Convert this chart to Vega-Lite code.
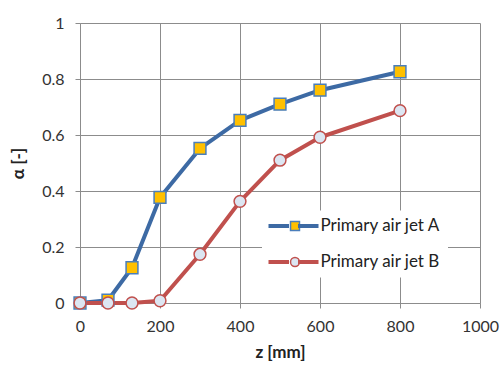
{
  "$schema": "https://vega.github.io/schema/vega-lite/v6.json",
  "width": 400,
  "height": 280,
  "autosize": "none",
  "padding": {"left": 80, "top": 23, "right": 20, "bottom": 66},
  "background": "white",
  "config": {
    "view": {"stroke": null},
    "font": "Lato",
    "axis": {
      "gridColor": "#8c8c8c",
      "gridOpacity": 1,
      "gridWidth": 1,
      "domainColor": "#8c8c8c",
      "tickColor": "#8c8c8c",
      "tickSize": 5,
      "labelFont": "Lato",
      "labelFontSize": 16,
      "labelColor": "#333333",
      "titleFont": "Lato",
      "titleFontSize": 17,
      "titleFontWeight": "bold",
      "titleColor": "#222222"
    }
  },
  "data": {
    "values": [
      {"z": 0, "alpha": 0.0, "series": "Primary air jet A"},
      {"z": 70, "alpha": 0.01, "series": "Primary air jet A"},
      {"z": 130, "alpha": 0.126, "series": "Primary air jet A"},
      {"z": 200, "alpha": 0.377, "series": "Primary air jet A"},
      {"z": 300, "alpha": 0.552, "series": "Primary air jet A"},
      {"z": 400, "alpha": 0.652, "series": "Primary air jet A"},
      {"z": 500, "alpha": 0.71, "series": "Primary air jet A"},
      {"z": 600, "alpha": 0.76, "series": "Primary air jet A"},
      {"z": 800, "alpha": 0.826, "series": "Primary air jet A"},
      {"z": 0, "alpha": 0.0, "series": "Primary air jet B"},
      {"z": 70, "alpha": 0.0, "series": "Primary air jet B"},
      {"z": 130, "alpha": 0.0, "series": "Primary air jet B"},
      {"z": 200, "alpha": 0.008, "series": "Primary air jet B"},
      {"z": 300, "alpha": 0.174, "series": "Primary air jet B"},
      {"z": 400, "alpha": 0.363, "series": "Primary air jet B"},
      {"z": 500, "alpha": 0.51, "series": "Primary air jet B"},
      {"z": 600, "alpha": 0.592, "series": "Primary air jet B"},
      {"z": 800, "alpha": 0.687, "series": "Primary air jet B"}
    ]
  },
  "encoding": {
    "x": {
      "field": "z",
      "type": "quantitative",
      "scale": {"domain": [0, 1000], "nice": false, "zero": false},
      "axis": {"values": [0, 200, 400, 600, 800, 1000], "format": "d", "title": "z [mm]", "labelPadding": 10, "titlePadding": 10, "labelFlush": false}
    },
    "y": {
      "field": "alpha",
      "type": "quantitative",
      "scale": {"domain": [0, 1], "nice": false},
      "axis": {"values": [0, 0.2, 0.4, 0.6, 0.8, 1], "format": "~g", "title": "α [-]", "labelPadding": 11, "titlePadding": 14, "labelFlush": false}
    }
  },
  "layer": [
    {
      "mark": {"type": "line", "strokeWidth": 4, "strokeJoin": "round"},
      "encoding": {
        "color": {
          "field": "series",
          "type": "nominal",
          "scale": {"domain": ["Primary air jet A", "Primary air jet B"], "range": ["#3D6AA4", "#C0504D"]},
          "legend": {
            "title": null,
            "orient": "none",
            "legendX": 182,
            "legendY": 187.5,
            "symbolType": "M-5,0H-0.9M0.9,0H5",
            "symbolSize": 100,
            "symbolStrokeWidth": 4,
            "symbolOffset": 16,
            "labelFont": "Lato",
            "labelFontSize": 17,
            "labelOpacity": 0,
            "labelOffset": 17,
            "rowPadding": 18,
            "padding": 7,
            "zindex": 2
          }
        }
      }
    },
    {
      "mark": {"type": "point", "filled": true, "size": 140, "strokeWidth": 1.5, "opacity": 1},
      "encoding": {
        "fill": {
          "field": "series",
          "type": "nominal",
          "scale": {"range": ["#FFC000", "#DCE6F2"]},
          "legend": {
            "title": null,
            "orient": "none",
            "legendX": 182,
            "legendY": 187.5,
            "symbolSize": 80,
            "symbolStrokeWidth": 1.5,
            "symbolOffset": 17.5,
            "labelFont": "Lato",
            "labelFontSize": 17,
            "labelColor": "#222222",
            "labelOffset": 17,
            "rowPadding": 18,
            "padding": 7,
            "fillColor": "white",
            "zindex": 1
          }
        },
        "stroke": {
          "field": "series",
          "type": "nominal",
          "scale": {"range": ["#4A7EBB", "#C0504D"]}
        },
        "shape": {
          "field": "series",
          "type": "nominal",
          "scale": {"range": ["square", "circle"]}
        }
      }
    }
  ]
}
